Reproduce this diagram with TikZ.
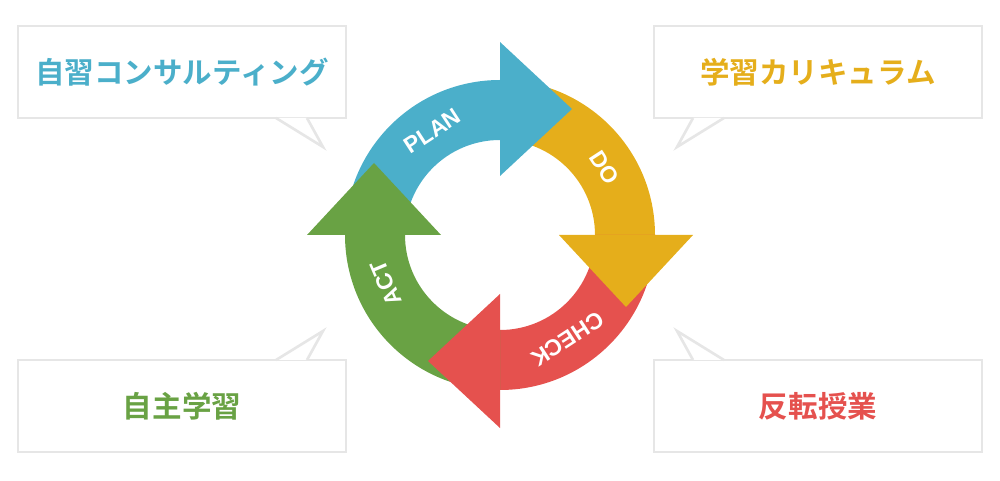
\documentclass[tikz,border=0pt]{standalone}
\usepackage{fontspec}
\setmainfont{Liberation Sans}
\newfontfamily\jpfont{Noto Sans CJK JP}[BoldFont=* Bold]
\usetikzlibrary{calc,positioning}
\definecolor{planblue}{HTML}{4BAFCA}
\definecolor{doyellow}{HTML}{E5AE1B}
\definecolor{checkred}{HTML}{E5514E}
\definecolor{actgreen}{HTML}{69A244}
\definecolor{boxgray}{HTML}{E6E6E6}
\tikzset{
  callout/.style={draw=boxgray, line width=1.5pt, fill=white,
    minimum width=6.56cm, minimum height=1.84cm, inner sep=0pt,
    font=\jpfont\bfseries\fontsize{16.8}{17}\selectfont},
  tail/.style={draw=boxgray, line width=1.5pt},
  cyclelabel/.style={white, font=\bfseries\fontsize{13}{13}\selectfont}
}
\begin{document}
\begin{tikzpicture}[x=0.02cm, y=0.02cm]
  \useasboundingbox (0,0) rectangle (1000,480);
  \coordinate (c) at (500,245);
  % Arc bands
  \foreach \a/\col in {90/planblue, 0/doyellow, -90/checkred, 180/actgreen} {
    \fill[\col] ($(c)+(\a+90:155)$) arc[start angle=\a+90, end angle=\a, radius=155]
      -- ($(c)+(\a:95)$) arc[start angle=\a, end angle=\a+90, radius=95] -- cycle;
  }
  % Arrow heads
  \foreach \a/\col in {90/planblue, 0/doyellow, -90/checkred, 180/actgreen} {
    \fill[\col] ($(c)+(\a:59)$) -- ($(c)+(\a:193)$)
      -- ($(c)+(\a:126)+(\a-90:72)$) -- cycle;
  }
  % Labels on the cycle
  \node[cyclelabel, rotate=33] (plan) at ($(c)+(123:124)$) {PLAN};
  \node[cyclelabel, rotate=-57] (do) at ($(c)+(33:124)$) {DO};
  \node[cyclelabel, rotate=-147] (check) at ($(c)+(-57:124)$) {CHECK};
  \node[cyclelabel, rotate=113] (act) at ($(c)+(203:124)$) {ACT};
  % Callouts
  \node[callout, text=planblue] (consult) at (182,408) {自習コンサルティング};
  \node[callout, text=doyellow] (curric) at (818,408) {学習カリキュラム};
  \node[callout, text=actgreen] (self) at (182,74) {自主学習};
  \node[callout, text=checkred] (flip) at (818,74) {反転授業};
  % Tails
  \foreach \xa/\xt/\xb/\yb/\yt in {276/323/307/362/333, 724/677/693/362/333,
                                   276/323/307/120/149, 724/677/693/120/149} {
    \fill[white] (\xa,\yb) -- (\xt,\yt) -- (\xb,\yb) -- cycle;
    \draw[tail] (\xa,\yb) -- (\xt,\yt) -- (\xb,\yb);
  }
\end{tikzpicture}
\end{document}
